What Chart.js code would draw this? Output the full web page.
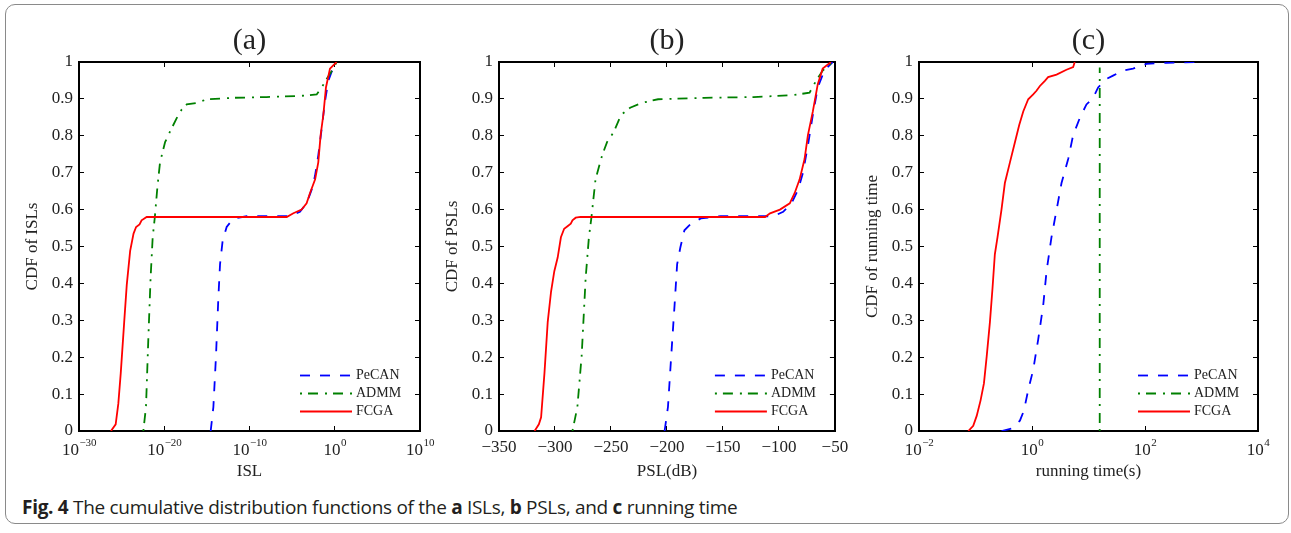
<!DOCTYPE html>
<html>
<head>
<meta charset="utf-8">
<script src="https://cdn.jsdelivr.net/npm/chart.js@4.4.1/dist/chart.umd.min.js"></script>
<style>
  html, body { margin: 0; padding: 0; background: #fff; }
  #page { position: relative; width: 1291px; height: 533px; overflow: hidden; background: #fff; }
  #frame { position: absolute; left: 5px; top: 4px; width: 1282px; height: 518px;
           border: 1px solid #8a8a8a; border-radius: 10px; }
  canvas { position: absolute; top: 0; }
  #caption { position: absolute; left: 22px; top: 496px; font-family: "Open Sans", sans-serif;
             font-size: 19px; line-height: 22px; color: #231f20; letter-spacing: -0.3px; white-space: nowrap; }
  #caption b { font-weight: 700; }
</style>
</head>
<body>
<div id="page">
  <div id="frame"></div>
  <canvas id="chart-a" width="440" height="490" style="left:0px"></canvas>
  <canvas id="chart-b" width="440" height="490" style="left:420px"></canvas>
  <canvas id="chart-c" width="440" height="490" style="left:840px"></canvas>
  <div id="caption"><b>Fig. 4</b> The cumulative distribution functions of the <b>a</b> ISLs, <b>b</b> PSLs, and <b>c</b> running time</div>
</div>
<script>
// ---- данные ----
const seriesNames = ['PeCAN', 'ADMM', 'FCGA'];
const cdfTickLabels = ['0', '0.1', '0.2', '0.3', '0.4', '0.5', '0.6', '0.7', '0.8', '0.9', '1'];

// (a) ISL, логарифмическая ось
const islTickValues = [1e-30, 1e-20, 1e-10, 1e0, 1e10];
const islTickExponents = ['\u221230', '\u221220', '\u221210', '0', '10'];
const islPecanX = [2.8e-15, 5.8e-15, 1.17e-14, 2.2e-14, 3.5e-14, 7.1e-14, 2.1e-13, 1.26e-12, 4.7e-11, 5.6e-6,
                   8.3e-5, 5.0e-4, 1.95e-3, 4.8e-3, 1.17e-2, 2.95e-2, 7.2e-2, 0.178, 0.68, 1.66];
const islPecanY = [0, 0.065, 0.203, 0.359, 0.452, 0.516, 0.553, 0.576, 0.582, 0.582,
                   0.594, 0.617, 0.654, 0.691, 0.747, 0.82, 0.894, 0.949, 0.986, 1];
const islAdmmX = [3.5e-23, 7.2e-23, 1.35e-22, 2.5e-22, 4.4e-22, 7.9e-22, 1.6e-21, 3.2e-21, 1.26e-20, 4.7e-20,
                  2.9e-19, 1.1e-18, 4.3e-18, 6.3e-17, 1e-15, 1.26e-12, 1.0e-8, 8.3e-5, 7.6e-3, 2.95e-2,
                  0.112, 0.68, 1.66];
const islAdmmY = [0, 0.065, 0.249, 0.415, 0.525, 0.58, 0.663, 0.728, 0.783, 0.811,
                  0.848, 0.871, 0.885, 0.889, 0.899, 0.903, 0.905, 0.908, 0.912, 0.931,
                  0.954, 0.982, 1];
const islFcgaX = [5.6e-27, 2.0e-26, 4.1e-26, 7.9e-26, 2.0e-25, 4.0e-25, 1e-24, 2.5e-24, 5.0e-24, 1.26e-23,
                  2.2e-23, 8.7e-23, 2.3e-6, 1.4e-5, 1.3e-4, 5.0e-4, 1.26e-3, 5.0e-3, 1.17e-2, 2.2e-2,
                  4.6e-2, 9.3e-2, 0.275, 1.66];
const islFcgaY = [0, 0.018, 0.074, 0.157, 0.295, 0.396, 0.488, 0.535, 0.553, 0.56,
                  0.571, 0.58, 0.58, 0.59, 0.60, 0.617, 0.645, 0.682, 0.728, 0.802,
                  0.857, 0.931, 0.982, 1];

// (b) PSL, дБ
const pslTickLabels = ['\u2212350', '\u2212300', '\u2212250', '\u2212200', '\u2212150', '\u2212100', '\u221250'];
const pslPecanX = [-202.1, -199.1, -196.2, -193.2, -190.9, -188, -184.4, -178.5, -169.7, -152.1,
                   -105, -96.2, -88.8, -82.9, -78.5, -74.1, -69.7, -65.3, -59.4, -52];
const pslPecanY = [0, 0.065, 0.203, 0.341, 0.452, 0.498, 0.544, 0.562, 0.576, 0.582,
                   0.582, 0.594, 0.617, 0.654, 0.7, 0.774, 0.857, 0.931, 0.977, 1];
const pslAdmmX = [-284.4, -280, -276.2, -272.6, -269.7, -267.4, -263.8, -257.9, -253.5, -247.4,
                  -240.9, -232.9, -222.6, -207.9, -166.8, -122.6, -87.5, -72.6, -66.8, -60.9, -52];
const pslAdmmY = [0, 0.065, 0.203, 0.415, 0.525, 0.58, 0.682, 0.747, 0.783, 0.811,
                  0.857, 0.876, 0.889, 0.899, 0.903, 0.905, 0.91, 0.917, 0.949, 0.977, 1];
const pslFcgaX = [-318.2, -314.4, -312.4, -309.4, -306.5, -303.5, -300.6, -297.6, -294.7, -291.8,
                  -288.8, -285.9, -284.4, -281.5, -277.1, -112.4, -107.9, -99.1, -90.3, -85.9,
                  -81.5, -77.1, -74.1, -69.7, -65.3, -60.9, -53.5];
const pslFcgaY = [0, 0.018, 0.037, 0.157, 0.295, 0.378, 0.433, 0.47, 0.525, 0.548,
                  0.555, 0.562, 0.571, 0.578, 0.58, 0.58, 0.59, 0.60, 0.617, 0.645,
                  0.682, 0.737, 0.802, 0.866, 0.94, 0.982, 1];

// (c) время работы, с
const timeTickValues = [1e-2, 1e0, 1e2, 1e4];
const timeTickExponents = ['\u22122', '0', '2', '4'];
const timePecanX = [0.289, 0.435, 0.611, 0.718, 0.857, 1.05, 1.29, 1.58, 1.81, 2.21,
                    2.72, 3.33, 4.37, 5.35, 7.01, 9.2, 12.1, 14.8, 20.8, 27.2,
                    40.9, 61.5, 106, 239, 811];
const timePecanY = [0, 0.007, 0.028, 0.055, 0.111, 0.166, 0.249, 0.341, 0.433, 0.525,
                    0.599, 0.672, 0.737, 0.802, 0.848, 0.885, 0.903, 0.931, 0.954, 0.963,
                    0.977, 0.982, 0.995, 0.998, 1];
const timeAdmmX = [15.8, 15.8];
const timeAdmmY = [0, 0.985];
const timeFcgaX = [0.0745, 0.0912, 0.105, 0.123, 0.141, 0.158, 0.18, 0.2, 0.22, 0.245,
                   0.288, 0.331, 0.407, 0.5, 0.594, 0.7, 0.857, 1.05, 1.2, 1.38,
                   1.69, 1.93, 2.72, 4.07, 5.35, 5.71];
const timeFcgaY = [0, 0.014, 0.041, 0.083, 0.129, 0.203, 0.295, 0.387, 0.479, 0.525,
                   0.599, 0.672, 0.728, 0.783, 0.829, 0.866, 0.899, 0.912, 0.922, 0.935,
                   0.949, 0.959, 0.966, 0.979, 0.986, 1];

// ---- оформление ----
const SERIF = '"Liberation Serif", "Times New Roman", serif';
const TEXT = '#222';
const PLOT_BOTTOM = 431, CANVAS_H = 490;

const seriesStyle = [
    { color: '#0000ff', dash: [10, 10], offset: 0, order: 2 },
    { color: '#008000', dash: [10, 7, 2, 6], offset: 17, order: 1 },
    { color: '#ff0000', dash: [], offset: 0, order: 0 }
];

function zip(xs, ys) {
    return xs.map((x, i) => ({ x: x, y: ys[i] }));
}

function makeDatasets(xsList, ysList) {
    return xsList.map((xs, i) => ({
        label: seriesNames[i],
        data: zip(xs, ysList[i]),
        borderColor: seriesStyle[i].color,
        borderDash: seriesStyle[i].dash,
        borderDashOffset: seriesStyle[i].offset,
        borderWidth: 1.8,
        pointRadius: 0,
        tension: 0,
        fill: false,
        order: seriesStyle[i].order
    }));
}

// Легенда внутри области графика (правый нижний угол)
const innerLegend = {
    id: 'innerLegend',
    afterDatasetsDraw(chart) {
        const ctx = chart.ctx, area = chart.chartArea;
        ctx.save();
        ctx.font = '14px ' + SERIF;
        ctx.textBaseline = 'middle';
        ctx.fillStyle = TEXT;
        chart.data.datasets.forEach((ds, i) => {
            const y = area.bottom - 55.5 + i * 18;
            ctx.strokeStyle = ds.borderColor;
            ctx.lineWidth = 1.8;
            ctx.setLineDash(ds.borderDash);
            ctx.lineDashOffset = ds.borderDashOffset;
            ctx.beginPath();
            ctx.moveTo(area.right - 120, y);
            ctx.lineTo(area.right - 68, y);
            ctx.stroke();
            ctx.setLineDash([]);
            ctx.fillText(ds.label, area.right - 64, y);
        });
        ctx.restore();
    }
};

// Подписи вида 10^k для логарифмической оси
const powerLabels = {
    id: 'powerLabels',
    afterDraw(chart, args, opts) {
        if (!opts.values) return;
        const ctx = chart.ctx, sc = chart.scales.x;
        ctx.save();
        ctx.fillStyle = TEXT;
        ctx.textBaseline = 'middle';
        ctx.textAlign = 'left';
        opts.values.forEach((v, i) => {
            const px = sc.getPixelForValue(v);
            ctx.font = '17px ' + SERIF;
            const wb = ctx.measureText('10').width;
            ctx.font = '11px ' + SERIF;
            const we = ctx.measureText(opts.exponents[i]).width;
            const x0 = px - (wb + we) / 2;
            ctx.font = '17px ' + SERIF;
            ctx.fillText('10', x0, sc.top + 20);
            ctx.font = '11px ' + SERIF;
            ctx.fillText(opts.exponents[i], x0 + wb + 0.5, sc.top + 12.5);
        });
        ctx.restore();
    }
};

function buildChart(canvasId, cfg) {
    const rightMargin = cfg.rightMargin;
    const isLog = cfg.xType === 'logarithmic';
    const fixTicks = isLog ? (s) => { s.ticks = cfg.xTickValues.map(v => ({ value: v })); } : undefined;

    const xBase = {
        type: cfg.xType,
        min: cfg.xMin,
        max: cfg.xMax,
        afterBuildTicks: fixTicks,
        border: { display: true, color: '#000', width: 2 },
        grid: { drawOnChartArea: false, drawTicks: true, tickLength: -5, color: '#000', lineWidth: 1 }
    };

    return new Chart(document.getElementById(canvasId).getContext('2d'), {
        type: 'line',
        data: { datasets: makeDatasets(cfg.xs, cfg.ys) },
        plugins: [innerLegend, powerLabels],
        options: {
            responsive: false,
            animation: false,
            devicePixelRatio: 1,
            layout: { padding: 0 },
            plugins: {
                legend: { display: false },
                tooltip: { enabled: false },
                title: {
                    display: true,
                    text: cfg.title,
                    fullSize: false,
                    color: TEXT,
                    font: { family: SERIF, size: 30, weight: 'normal', lineHeight: 1.2 },
                    padding: { top: 23.5, bottom: 2.5 }
                },
                powerLabels: isLog ? { values: cfg.xTickValues, exponents: cfg.xTickExponents } : {}
            },
            scales: {
                x: Object.assign({}, xBase, {
                    position: 'bottom',
                    afterFit: (s) => { s.height = CANVAS_H - PLOT_BOTTOM; },
                    ticks: isLog ? { display: false } : {
                        stepSize: cfg.xStep,
                        padding: 11.8,
                        color: TEXT,
                        font: { family: SERIF, size: 17 },
                        maxRotation: 0,
                        autoSkip: false,
                        callback: (v, i) => cfg.xTickLabels[i]
                    },
                    title: {
                        display: true,
                        text: cfg.xTitle,
                        color: TEXT,
                        font: { family: SERIF, size: 17, lineHeight: 1.2 },
                        padding: { top: 0, bottom: 8.3 }
                    }
                }),
                x2: Object.assign({}, xBase, {
                    position: 'top',
                    afterFit: (s) => { s.height = 0; },
                    ticks: isLog ? { display: false } : { display: false, stepSize: cfg.xStep }
                }),
                y: {
                    type: 'linear',
                    position: 'left',
                    min: 0,
                    max: 1,
                    afterFit: (s) => { s.width = 79; },
                    border: { display: true, color: '#000', width: 2 },
                    grid: { drawOnChartArea: false, tickLength: -5, color: '#000', lineWidth: 1 },
                    ticks: {
                        stepSize: 0.1,
                        padding: 11,
                        color: TEXT,
                        font: { family: SERIF, size: 17 },
                        callback: (v, i) => cdfTickLabels[i]
                    },
                    title: {
                        display: true,
                        text: cfg.yTitle,
                        color: TEXT,
                        font: { family: SERIF, size: 17, lineHeight: 1.2 },
                        padding: { top: 22.8, bottom: 0 }
                    }
                },
                y2: {
                    type: 'linear',
                    position: 'right',
                    min: 0,
                    max: 1,
                    afterFit: (s) => { s.width = rightMargin; },
                    border: { display: true, color: '#000', width: 2 },
                    grid: { drawOnChartArea: false, tickLength: -5, color: '#000', lineWidth: 1 },
                    ticks: { display: false, stepSize: 0.1 }
                }
            }
        }
    });
}

document.addEventListener('DOMContentLoaded', function() {
    Chart.defaults.font.family = SERIF;

    buildChart('chart-a', {
        title: '(a)',
        xTitle: 'ISL',
        yTitle: 'CDF of ISLs',
        xType: 'logarithmic',
        xMin: 1e-30,
        xMax: 1e10,
        xTickValues: islTickValues,
        xTickExponents: islTickExponents,
        rightMargin: 20,
        xs: [islPecanX, islAdmmX, islFcgaX],
        ys: [islPecanY, islAdmmY, islFcgaY]
    });

    buildChart('chart-b', {
        title: '(b)',
        xTitle: 'PSL(dB)',
        yTitle: 'CDF of PSLs',
        xType: 'linear',
        xMin: -350,
        xMax: -50,
        xStep: 50,
        xTickLabels: pslTickLabels,
        rightMargin: 21,
        xs: [pslPecanX, pslAdmmX, pslFcgaX],
        ys: [pslPecanY, pslAdmmY, pslFcgaY]
    });

    buildChart('chart-c', {
        title: '(c)',
        xTitle: 'running time(s)',
        yTitle: 'CDF of running time',
        xType: 'logarithmic',
        xMin: 1e-2,
        xMax: 1e4,
        xTickValues: timeTickValues,
        xTickExponents: timeTickExponents,
        rightMargin: 22,
        xs: [timePecanX, timeAdmmX, timeFcgaX],
        ys: [timePecanY, timeAdmmY, timeFcgaY]
    });
});
</script>
</body>
</html>
